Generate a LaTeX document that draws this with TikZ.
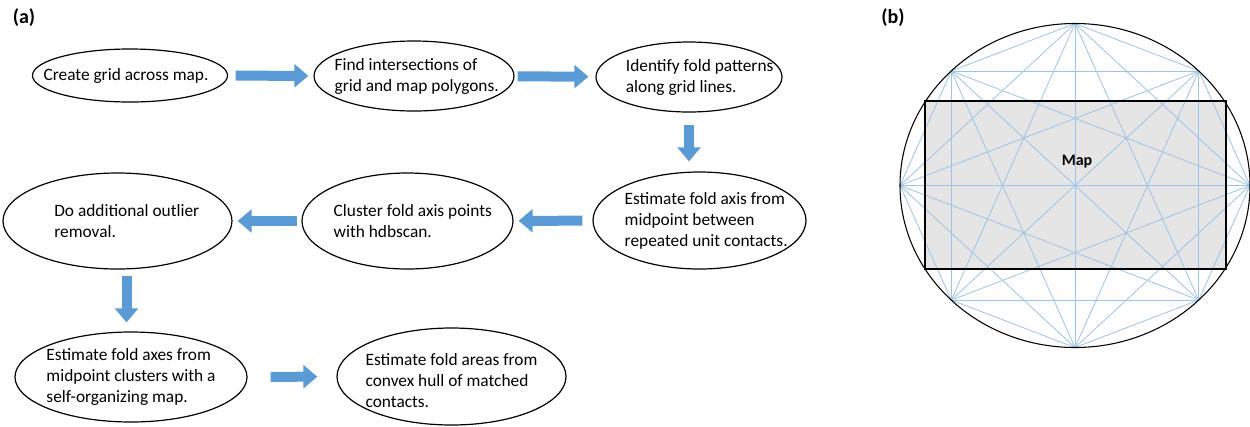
\documentclass[tikz,border=0pt]{standalone}
\usepackage{fontspec}
\setmainfont{Carlito}
\usepackage{tikz}
\usetikzlibrary{arrows.meta,shapes.geometric}
\definecolor{arrowblue}{RGB}{91,155,213}
\definecolor{foldblue}{RGB}{157,195,230}
\definecolor{mapgray}{RGB}{229,229,229}
\tikzset{
 flowoval/.style={
 ellipse,
 draw=black,
 line width=0.9pt,
 inner sep=0pt
 },
 flowtext/.style={
 align=left,
 inner sep=0pt,
 font=\fontsize{13}{15.75}\selectfont
 },
 panellabel/.style={font=\fontsize{15}{18}\selectfont\bfseries},
 foldline/.style={draw=foldblue, line width=0.6pt},
 mapbox/.style={draw=black, line width=2pt},
 blockarrow/.style={-{Triangle[width=17pt,length=10.5pt]}, line width=7.5pt, draw=arrowblue}
}

\begin{document}
\begin{tikzpicture}[x=0.75pt, y=-0.75pt]
	\useasboundingbox (0,0) rectangle (1250,426);
	\node[panellabel] (laba) at (24,18) {(a)};
	\node[panellabel] (labb) at (893,18) {(b)};

	% panel (a)
	\node[flowoval, minimum width=146.25pt, minimum height=39.75pt] (grid) at (130,75.5) {};
	\node[flowoval, minimum width=150pt, minimum height=52.5pt] (inter) at (414,76) {};
	\node[flowoval, minimum width=139.5pt, minimum height=52.5pt] (pattern) at (689,77) {};
	\node[flowoval, minimum width=159.75pt, minimum height=72.75pt] (axis) at (699.5,220.5) {};
	\node[flowoval, minimum width=158.25pt, minimum height=72pt] (cluster) at (407.5,221) {};
	\node[flowoval, minimum width=171.75pt, minimum height=72pt] (outlier) at (117.5,221) {};
	\node[flowoval, minimum width=174pt, minimum height=67.5pt] (som) at (131,377) {};
	\node[flowoval, minimum width=171.75pt, minimum height=72.75pt] (hull) at (451.5,376.5) {};

	\node[flowtext, xshift=-3pt] (grid-t) at (grid) {Create grid across map.};
	\node[flowtext, xshift=2pt] (inter-t) at (inter) {Find intersections of\\grid and map polygons.};
	\node[flowtext, xshift=8pt] (pattern-t) at (pattern) {Identify fold patterns\\along grid lines.};
	\node[flowtext, xshift=5pt] (axis-t) at (axis) {Estimate fold axis from\\midpoint between\\repeated unit contacts.};
	\node[flowtext, xshift=4pt] (cluster-t) at (cluster) {Cluster fold axis points\\with hdbscan.};
	\node[flowtext, xshift=7pt] (outlier-t) at (outlier) {Do additional outlier\\removal.};
	\node[flowtext] (som-t) at (som) {Estimate fold axes from\\midpoint clusters with a\\self-organizing map.};
	\node[flowtext, yshift=-3pt] (hull-t) at (hull) {Estimate fold areas from\\convex hull of matched\\contacts.};

	\draw[blockarrow, shorten <=5.6pt, shorten >=3.75pt] (grid) -- (inter);
	\draw[blockarrow, shorten <=2.25pt, shorten >=5.25pt] (inter) -- (pattern);
	\draw[blockarrow, shorten <=9pt, shorten >=7.5pt] (pattern.south) -- (pattern.south |- axis.north);
	\draw[blockarrow, shorten <=7.5pt, shorten >=3.75pt] (axis) -- (cluster);
	\draw[blockarrow, shorten <=3pt, shorten >=3.75pt] (cluster) -- (outlier);
	\draw[blockarrow, shorten <=4.5pt, shorten >=6.75pt] ([xshift=6.75pt]outlier.south) -- ([xshift=6.75pt]outlier.south |- som.north);
	\draw[blockarrow, shorten <=17.25pt, shorten >=14.25pt] (som) -- (hull);

	% panel (b)
	\fill[mapgray] (925,101) rectangle (1226,269);
	\foreach \k in {0,...,7}
		\coordinate (v\k) at ({1075+175*cos(45*\k)},{185.5-162*sin(45*\k)});
	\foreach \i in {0,...,6}{
		\pgfmathtruncatemacro{\inext}{\i+1}
		\foreach \j in {\inext,...,7}
			\draw[foldline] (v\i) -- (v\j);
	}
	\draw[line width=0.8pt] (1075,185.5) ellipse [x radius=131.25pt, y radius=121.5pt];
	\draw[mapbox] (925,101) rectangle (1226,269);
	\node[font=\fontsize{12}{14}\selectfont\bfseries] (maplabel) at (1077,162) {Map};
\end{tikzpicture}
\end{document}
